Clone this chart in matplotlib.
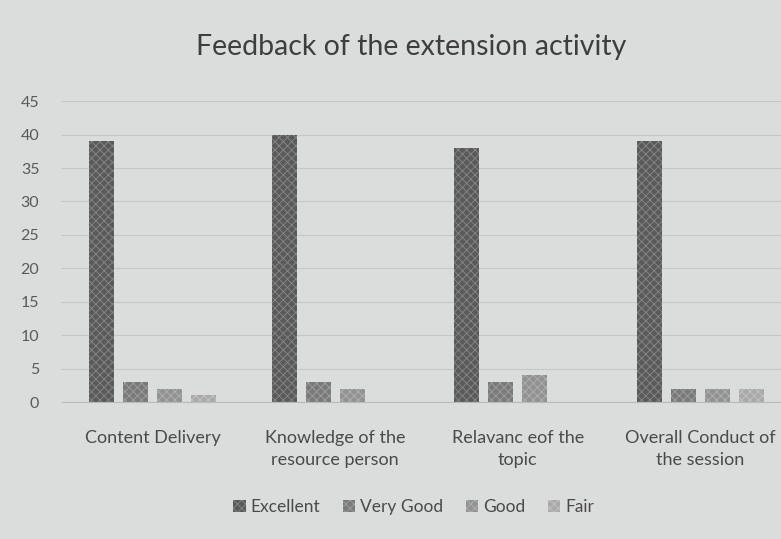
import numpy as np
import matplotlib
matplotlib.use("Agg")
import matplotlib.pyplot as plt

# Chart data
categories = ["Content Delivery", "Knowledge of the\nresource person",
              "Relavanc eof the\ntopic", "Overall Conduct of\nthe session"]
series_names = ["Excellent", "Very Good", "Good", "Fair"]
excellent = [39, 40, 38, 39]
very_good = [3, 3, 3, 2]
good = [2, 2, 4, 2]
fair = [1, 0, 0, 2]
y_ticks = [0, 5, 10, 15, 20, 25, 30, 35, 40, 45]

values = [excellent, very_good, good, fair]
colors = ["#5a5a5a", "#7a7a7a", "#929292", "#aaaaaa"]
hatch_colors = ["#888888", "#a0a0a0", "#b2b2b2", "#c4c4c4"]

plt.rcParams["font.family"] = ["Lato", "DejaVu Sans"]
plt.rcParams["hatch.linewidth"] = 0.6
text_col = "#4a4a4a"
bg = "#dbdcdc"

fig = plt.figure(figsize=(7.81, 5.39), dpi=100, facecolor=bg)
ax = fig.add_axes([61.5 / 781, 0.254, 730 / 781, 0.5584])
ax.set_facecolor(bg)

x = np.arange(len(categories))
step = 0.186
width = 0.137
for i, (name, vals) in enumerate(zip(series_names, values)):
    offs = (i - 1.5) * step
    ax.bar(x + offs, vals, width, color=colors[i], label=name,
           hatch="xxxx", edgecolor=hatch_colors[i], linewidth=0)

ax.set_xlim(-0.5, 3.5)
ax.set_ylim(0, 45)
ax.set_yticks(y_ticks)
ax.yaxis.grid(True, color="#c6c7c7", linewidth=0.8)
ax.set_axisbelow(True)
for s in ["top", "right", "left"]:
    ax.spines[s].set_visible(False)
ax.spines["bottom"].set_color("#b8b9b9")
ax.tick_params(axis="both", length=0, colors=text_col)
ax.tick_params(axis="y", labelsize=11.5, pad=16, labelcolor="#5a5a5a")
ax.set_xticks(x)
ax.set_xticklabels(categories, fontsize=13, linespacing=1.45)
ax.tick_params(axis="x", pad=20)

fig.text(411 / 781, 1 - 47 / 539, "Feedback of the extension activity",
         ha="center", va="center", fontsize=20.5, color="#3e3e3e")

fig.legend(loc="center", bbox_to_anchor=(414 / 781, 1 - 507 / 539), ncol=4,
           frameon=False, fontsize=12.5, labelcolor=text_col,
           handlelength=0.7, handleheight=0.7, handletextpad=0.3,
           columnspacing=1.3)

fig.savefig("out.png", dpi=100, facecolor=bg)
